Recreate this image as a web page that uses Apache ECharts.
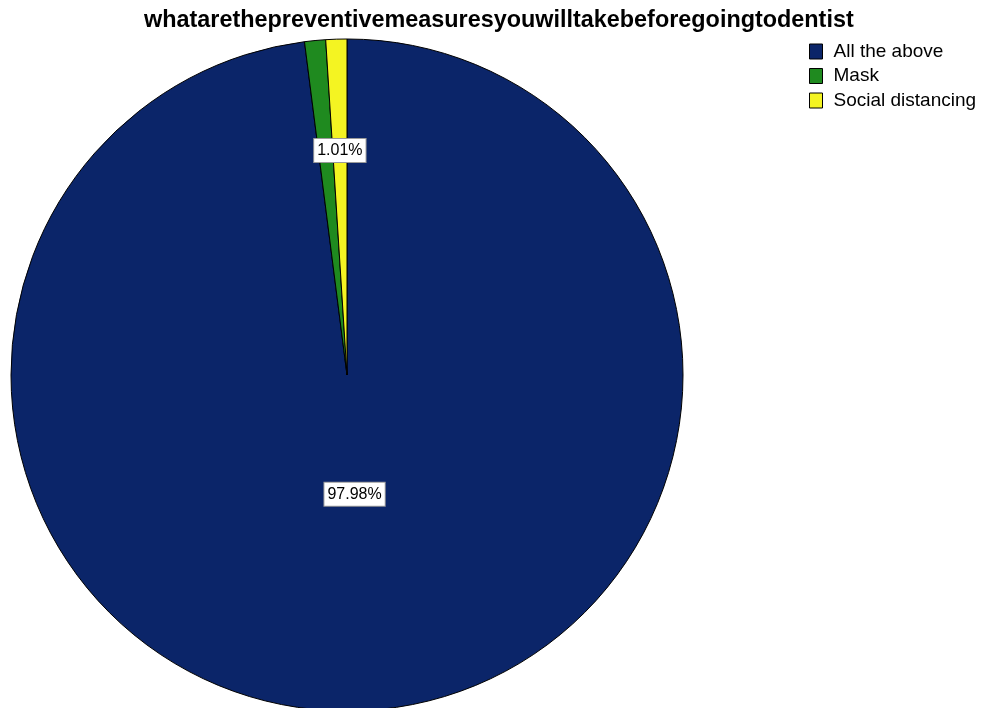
<!DOCTYPE html>
<html>
<head>
<meta charset="utf-8">
<script src="https://cdn.jsdelivr.net/npm/echarts@6/dist/echarts.min.js"></script>
<style>
  html, body { margin: 0; padding: 0; background: #ffffff; }
  #chart { width: 982px; height: 708px; }
</style>
</head>
<body>
<div id="chart"></div>
<script>
// Answers to the survey question, share of respondents in percent
const categories = ['All the above', 'Mask', 'Social distancing'];
const percents = [97.98, 1.01, 1.01];
const colors = ['#0b2569', '#1f8a1f', '#f4f422'];
// Which slices carry a value label, and in which ring
const innerLabelShown = [true, false, false];
const outerLabelShown = [false, false, true];

const slices = categories.map((name, i) => ({
  name: name,
  value: percents[i],
  itemStyle: { color: colors[i] }
}));

const labelBox = {
  color: '#000',
  fontFamily: 'Liberation Sans, Arial, sans-serif',
  fontSize: 16,
  backgroundColor: '#ffffff',
  borderColor: '#9a9a9a',
  borderWidth: 1,
  padding: [4, 3, 3, 3],
  formatter: p => p.value.toFixed(2) + '%'
};

function labelRing(radius, shown) {
  return {
    type: 'pie',
    center: [347, 375],
    radius: [0, radius],
    startAngle: 90,
    clockwise: true,
    silent: true,
    animation: false,
    itemStyle: { color: 'transparent', borderWidth: 0 },
    labelLine: { show: false },
    data: categories.map((name, i) => ({
      name: name,
      value: percents[i],
      itemStyle: { color: 'transparent' },
      label: Object.assign({ show: shown[i], position: 'inside' }, labelBox)
    })),
    z: 5
  };
}

const chart = echarts.init(document.getElementById('chart'), null, { renderer: 'canvas' });
chart.setOption({
  backgroundColor: '#ffffff',
  animation: false,
  title: {
    text: 'whatarethepreventivemeasuresyouwilltakebeforegoingtodentist',
    left: 139,
    top: 4,
    textStyle: {
      fontFamily: 'Liberation Sans, Arial, sans-serif',
      fontWeight: 'bold',
      fontSize: 23.4,
      color: '#000'
    }
  },
  legend: {
    orient: 'vertical',
    left: 804,
    top: 37,
    itemWidth: 13,
    itemHeight: 15,
    itemGap: 5.5,
    icon: 'rect',
    data: categories,
    itemStyle: { borderColor: '#000', borderWidth: 1 },
    textStyle: {
      fontFamily: 'Liberation Sans, Arial, sans-serif',
      fontSize: 19,
      color: '#000',
      padding: [0, 0, 0, 6]
    }
  },
  series: [
    {
      type: 'pie',
      center: [347, 375],
      radius: [0, 336],
      startAngle: 90,
      clockwise: true,
      animation: false,
      label: { show: false },
      labelLine: { show: false },
      itemStyle: { borderColor: '#000', borderWidth: 1 },
      emphasis: { disabled: true },
      data: slices
    },
    labelRing(233, innerLabelShown),
    labelRing(443, outerLabelShown)
  ]
});
</script>
</body>
</html>
